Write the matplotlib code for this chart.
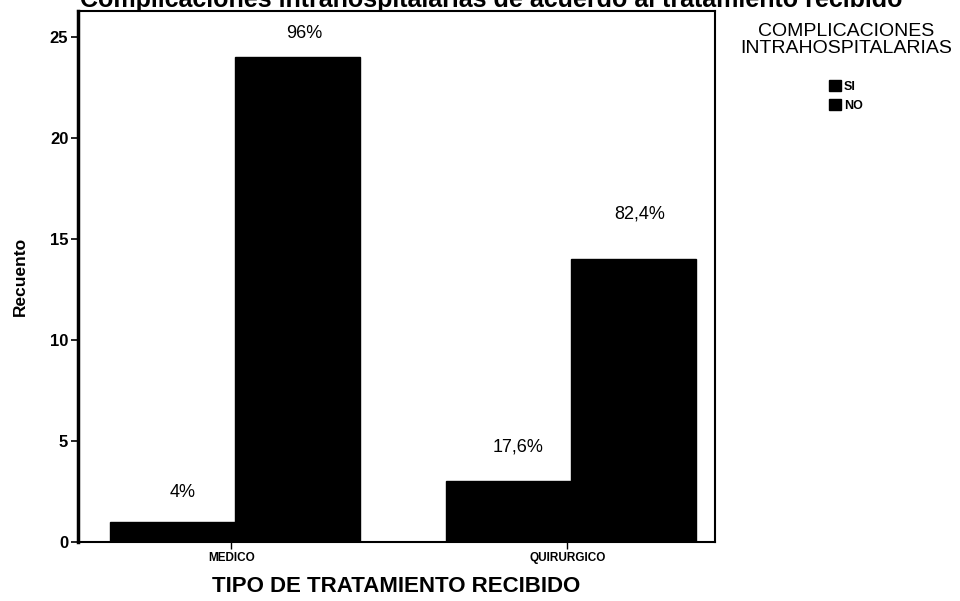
import matplotlib
matplotlib.use("Agg")
import matplotlib.pyplot as plt
import numpy as np
from matplotlib.patches import Patch

plt.rcParams['font.family'] = ['Liberation Sans', 'DejaVu Sans']

categories = ["MEDICO", "QUIRURGICO"]
series_names = ["SI", "NO"]
si_values = [1, 3]
no_values = [24, 14]
si_labels = ["4%", "17,6%"]
no_labels = ["96%", "82,4%"]

# label offsets above bar tops (points)
si_offsets = [21, 25]
no_offsets = [17, 33]

fig = plt.figure(figsize=(9.6, 6.01), dpi=100)
ax = fig.add_axes([78/960, 59/601, (715-78)/960, (542-11)/601])

x = np.arange(len(categories))
w = 0.372
b1 = ax.bar(x - w/2, si_values, w, color="black", edgecolor="black")
b2 = ax.bar(x + w/2, no_values, w, color="black", edgecolor="black")

for rect, lab, off in zip(b1, si_labels, si_offsets):
    ax.annotate(lab, (rect.get_x() + rect.get_width()/2 + 0.03, rect.get_height()),
                xytext=(0, off), textcoords="offset points", ha="center", va="center",
                fontsize=13)
for rect, lab, off in zip(b2, no_labels, no_offsets):
    ax.annotate(lab, (rect.get_x() + rect.get_width()/2 + 0.02, rect.get_height()),
                xytext=(0, off), textcoords="offset points", ha="center", va="center",
                fontsize=13)

ax.set_xlim(-0.467, 1.43)
ax.set_ylim(0, 26.3)
ax.set_yticks([0, 5, 10, 15, 20, 25])
ax.set_yticklabels(["0", "5", "10", "15", "20", "25"], fontsize=12, fontweight="bold")
ax.set_xticks(x - 0.01)
ax.set_xticklabels(categories, fontsize=8.5, fontweight="bold")
ax.tick_params(axis="y", length=5, width=1.2, pad=2)
ax.tick_params(axis="x", length=5, width=1, pad=2)

for s in ["top", "right", "bottom"]:
    ax.spines[s].set_linewidth(1.5)
ax.spines["left"].set_linewidth(2.5)

ax.set_ylabel("Recuento", fontsize=12.5, fontweight="bold", labelpad=16)
ax.set_xlabel("TIPO DE TRATAMIENTO RECIBIDO", fontsize=16, fontweight="bold", labelpad=9)

fig.text(0.512, 1.0, "Complicaciones intrahospitalarias de acuerdo al tratamiento recibido",
         ha="center", va="center", fontsize=18, fontweight="bold")

handles = [Patch(facecolor="black", edgecolor="black", label=n) for n in series_names]
leg = fig.legend(handles=handles, loc="upper center", bbox_to_anchor=(846/960, 1 - 14/601),
                 title="COMPLICACIONES\nINTRAHOSPITALARIAS", title_fontsize=14,
                 fontsize=9, frameon=False, handlelength=0.95, handleheight=0.95,
                 handletextpad=0.2, labelspacing=0.5, borderpad=0.2)
leg.get_title().set_multialignment("center")
leg.get_title().set_linespacing(1.0)
leg._legend_box.sep = 17
for t in leg.get_texts():
    t.set_fontweight("bold")

fig.savefig("out.png", dpi=100)
